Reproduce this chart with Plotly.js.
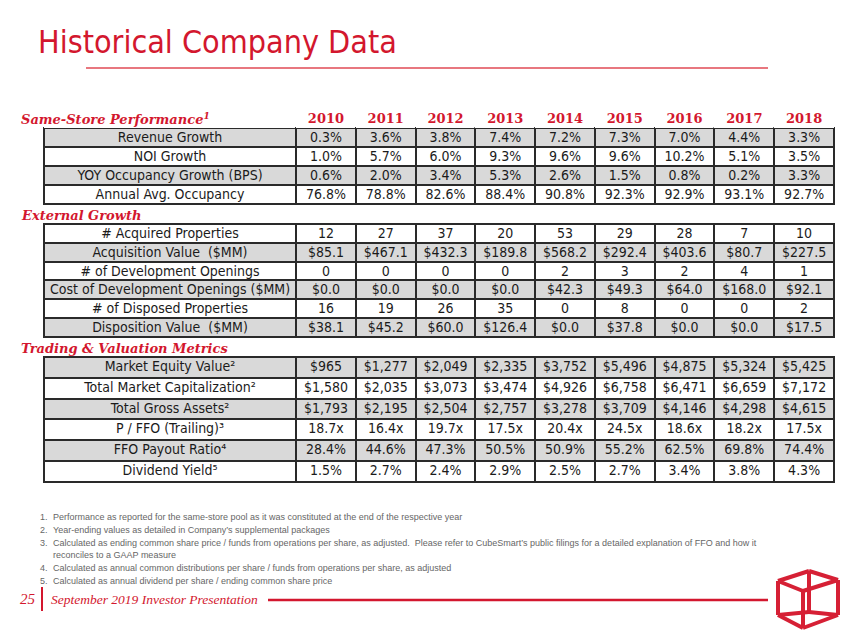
<!DOCTYPE html>
<html>
<head>
<meta charset="utf-8">
<script src="https://cdn.plot.ly/plotly-3.0.1.min.js"></script>
<style>
html,body{margin:0;padding:0;background:#fff;}
#chart{width:850px;height:637px;}
#chart .cell-text{transform:translateY(-4.5px);}
</style>
</head>
<body>
<div id="chart"></div>
<script>
// ---------- DATA ----------
var years = ['2010','2011','2012','2013','2014','2015','2016','2017','2018'];

var sameStoreLabels = ['Revenue Growth','NOI Growth','YOY Occupancy Growth (BPS)','Annual Avg. Occupancy'];
var revenueGrowth = [0.3,3.6,3.8,7.4,7.2,7.3,7.0,4.4,3.3];
var noiGrowth     = [1.0,5.7,6.0,9.3,9.6,9.6,10.2,5.1,3.5];
var occGrowth     = [0.6,2.0,3.4,5.3,2.6,1.5,0.8,0.2,3.3];
var avgOccupancy  = [76.8,78.8,82.6,88.4,90.8,92.3,92.9,93.1,92.7];

var externalLabels = ['# Acquired Properties','Acquisition Value \u00a0($MM)','# of Development Openings','Cost\u00a0of\u00a0Development\u00a0Openings\u00a0($MM)','# of Disposed Properties','Disposition Value \u00a0($MM)'];
var acquiredProps  = [12,27,37,20,53,29,28,7,10];
var acquisitionVal = [85.1,467.1,432.3,189.8,568.2,292.4,403.6,80.7,227.5];
var devOpenings    = [0,0,0,0,2,3,2,4,1];
var devCost        = [0.0,0.0,0.0,0.0,42.3,49.3,64.0,168.0,92.1];
var disposedProps  = [16,19,26,35,0,8,0,0,2];
var dispositionVal = [38.1,45.2,60.0,126.4,0.0,37.8,0.0,0.0,17.5];

var tradingLabels = ['Market Equity Value\u00b2','Total Market Capitalization\u00b2','Total Gross Assets\u00b2','P / FFO (Trailing)\u00b3','FFO Payout Ratio\u2074','Dividend Yield\u2075'];
var marketEquity = [965,1277,2049,2335,3752,5496,4875,5324,5425];
var totalMktCap  = [1580,2035,3073,3474,4926,6758,6471,6659,7172];
var grossAssets  = [1793,2195,2504,2757,3278,3709,4146,4298,4615];
var pffo         = [18.7,16.4,19.7,17.5,20.4,24.5,18.6,18.2,17.5];
var ffoPayout    = [28.4,44.6,47.3,50.5,50.9,55.2,62.5,69.8,74.4];
var divYield     = [1.5,2.7,2.4,2.9,2.5,2.7,3.4,3.8,4.3];

var sectionTitles = ['Same-Store Performance','External Growth','Trading &amp; Valuation Metrics'];
var footnotes = [
  ['1.','Performance as reported for the same-store pool as it was constituted at the end of the respective year'],
  ['2.','Year-ending values as detailed in Company\u2019s supplemental packages'],
  ['3.','Calculated as ending common share price / funds from operations per share, as adjusted.&nbsp; Please refer to CubeSmart\u2019s public filings for a detailed explanation of FFO and how it'],
  ['','reconciles to a GAAP measure'],
  ['4.','Calculated as annual common distributions per share / funds from operations per share, as adjusted'],
  ['5.','Calculated as annual dividend per share / ending common share price']
];

// ---------- FORMATTERS ----------
function pct(v){return v.toFixed(1)+'%';}
function usd1(v){return '$'+v.toFixed(1);}
function usdK(v){return '$'+v.toLocaleString('en-US');}
function int(v){return String(v);}
function mult(v){return v.toFixed(1)+'x';}

function columns(labels, rows){
  var cols=[labels];
  for(var j=0;j<years.length;j++){
    cols.push(rows.map(function(r){return r[1](r[0][j]);}));
  }
  return cols;
}

var t1 = columns(sameStoreLabels, [[revenueGrowth,pct],[noiGrowth,pct],[occGrowth,pct],[avgOccupancy,pct]]);
var t2 = columns(externalLabels, [[acquiredProps,int],[acquisitionVal,usd1],[devOpenings,int],[devCost,usd1],[disposedProps,int],[dispositionVal,usd1]]);
var t3 = columns(tradingLabels, [[marketEquity,usdK],[totalMktCap,usdK],[grossAssets,usdK],[pffo,mult],[ffoPayout,pct],[divYield,pct]]);

// ---------- STYLE ----------
var W=850,H=637;
function px(x){return x/W;}
function py(y){return 1-y/H;}
var RED='#d3172e', GREY='#d9d9d9', LINE='#2a2a2a', TXT='#1b1b1b';
var cellFont={family:'"DejaVu Sans Condensed", "DejaVu Sans", sans-serif',size:14,color:TXT};
var colW=[253,60,60,60,60,60,60,60,60,60];
var xDom=[px(44),px(834)];

function tbl(vals, fills, rowH, yTop, yBot, headerVals, headerH){
  return {
    type:'table',
    domain:{x:xDom,y:[py(yBot),py(yTop)]},
    columnwidth:colW,
    header:{values:headerVals,height:headerH,fill:{color:'white'},line:{width:0,color:'white'},
      align:'center',font:{family:'"DejaVu Serif", serif',size:13,color:RED,weight:'bold'}},
    cells:{values:vals,height:rowH,fill:{color:[fills]},line:{width:2,color:LINE},align:'center',font:cellFont}
  };
}
var W_='white';
function blanks(){return [''].concat(years.map(function(){return '';}));}
var data=[
  tbl(t1,[GREY,W_,GREY,W_],19,110,212,[''].concat(years),18),
  tbl(t2,[W_,GREY,W_,GREY,W_,GREY],18.8,224,342,blanks(),0),
  tbl(t3,[GREY,W_,GREY,W_,GREY,W_],20.8,357,488,blanks(),0)
];

var annotations=[];
var secY=[118,215,348];
sectionTitles.forEach(function(t,i){
  annotations.push({xref:'paper',yref:'paper',x:px(19),y:py(secY[i]),xanchor:'left',yanchor:'middle',showarrow:false,
    text:'<b><i>'+t+'</i></b>'+(i===0?'<sup><b><i>1</i></b></sup>':''),
    font:{family:'"DejaVu Serif", serif',size:13,color:RED}});
});
var fnY=[517,530,543,555,568,581];
footnotes.forEach(function(f,i){
  if(f[0]) annotations.push({xref:'paper',yref:'paper',x:px(38),y:py(fnY[i]),xanchor:'left',yanchor:'middle',showarrow:false,
    text:f[0],font:{family:'"Liberation Sans Narrow", "Liberation Sans", sans-serif',size:9,color:'#666'}});
  annotations.push({xref:'paper',yref:'paper',x:px(51),y:py(fnY[i]),xanchor:'left',yanchor:'middle',showarrow:false,
    text:f[1],font:{family:'"Liberation Sans Narrow", "Liberation Sans", sans-serif',size:9,color:'#666'}});
});
annotations.push({xref:'paper',yref:'paper',x:px(38),y:py(599),xanchor:'right',yanchor:'middle',showarrow:false,
  text:'<i>25</i>',font:{family:'"Liberation Serif", serif',size:15,color:RED}});
annotations.push({xref:'paper',yref:'paper',x:px(49),y:py(599),xanchor:'left',yanchor:'middle',showarrow:false,
  text:'<i>September 2019 Investor Presentation</i>',font:{family:'"Liberation Serif", serif',size:13.5,color:RED}});

// cube logo vertices (decoration)
var T=[809,571],L=[778,581],R=[838,580],F=[803,591],Tb=[809,612],Lb=[778,615],Rb=[838,615],Fb=[803,628];
var edges=[[L,T],[T,R],[R,F],[F,L],[Lb,Tb],[Tb,Rb],[Rb,Fb],[Fb,Lb],[L,Lb],[T,Tb],[R,Rb],[F,Fb]];
var shapes=[
  {type:'line',xref:'paper',yref:'paper',x0:px(86),x1:px(768),y0:py(68),y1:py(68),line:{color:'#e04a55',width:1.5}},
  {type:'line',xref:'paper',yref:'paper',x0:px(42),x1:px(42),y0:py(587),y1:py(611),line:{color:RED,width:2}},
  {type:'line',xref:'paper',yref:'paper',x0:px(268),x1:px(768),y0:py(600),y1:py(600),line:{color:RED,width:2.5}}
];
edges.forEach(function(e){
  shapes.push({type:'line',xref:'paper',yref:'paper',x0:px(e[0][0]),y0:py(e[0][1]),x1:px(e[1][0]),y1:py(e[1][1]),
    line:{color:'#d62035',width:4}});
});

var layout={
  width:W,height:H,margin:{l:0,r:0,t:0,b:0},paper_bgcolor:'white',plot_bgcolor:'white',
  title:{text:'Historical Company Data',x:px(38),xanchor:'left',xref:'container',yref:'container',y:py(42),yanchor:'middle',
    font:{family:'"DejaVu Sans Condensed", "Liberation Sans Narrow", sans-serif',size:32,color:RED}},
  annotations:annotations,shapes:shapes,showlegend:false
};
Plotly.newPlot('chart',data,layout,{displayModeBar:false,staticPlot:true});
</script>
</body>
</html>
